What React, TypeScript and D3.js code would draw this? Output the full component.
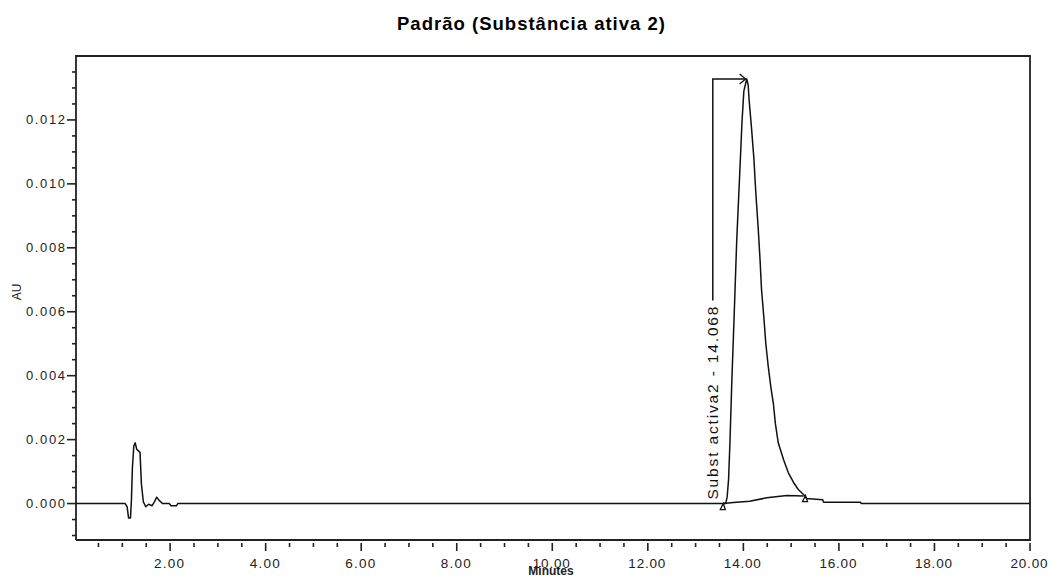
import React from "react";
import * as d3 from "d3";

const TITLE = "Padrão (Substância ativa 2)";
const Y_LABEL = "AU";
const X_LABEL = "Minutes";

// chromatogram signal: time (min) and absorbance (AU)
const times = [
  0.03, 1.06, 1.1, 1.13, 1.17, 1.19, 1.21, 1.24, 1.27, 1.3, 1.37, 1.4, 1.44, 1.49, 1.55, 1.62, 1.67, 1.72, 1.77,
  1.84, 1.98, 2.02, 2.13, 2.16, 13.63, 13.66, 13.69, 13.72, 13.76, 13.81, 13.86, 13.92, 13.97, 14.01, 14.07,
  14.1, 14.12, 14.17, 14.22, 14.26, 14.31, 14.35, 14.38, 14.43, 14.47, 14.52, 14.57, 14.63, 14.67, 14.73, 14.84,
  14.94, 15.05, 15.15, 15.28, 15.32, 15.66, 15.68, 16.45, 16.47, 20.0,
];
const values = [
  0, 0, -0.0001, -0.00045, -0.00045, 0.0001, 0.0011, 0.0018, 0.0019, 0.0017, 0.0016, 0.0006, 0.00005, -0.0001,
  -0.00002, -0.00007, 0.00005, 0.0002, 0.0001, 0, 0, -0.00007, -0.00007, 0, 0, 0.0002, 0.00075, 0.00195, 0.0039,
  0.006, 0.0082, 0.0102, 0.0119, 0.0129, 0.01328, 0.0131, 0.01263, 0.01175, 0.0108, 0.00973, 0.00862, 0.0076,
  0.0067, 0.0058, 0.005, 0.0043, 0.0037, 0.0031, 0.0025, 0.0019, 0.00138, 0.00097, 0.00066, 0.00044, 0.00025,
  0.00016, 0.00012, 0.00004, 0.00004, 0, 0,
];

// integration baseline under the main peak
const baseTimes = [13.58, 13.79, 14.13, 14.49, 14.91, 15.26];
const baseValues = [0, 0.00003, 0.00007, 0.00018, 0.00025, 0.00024];

// peak annotation
const peakName = "Subst activa2";
const peakRT = 14.068;
const peakHeight = 0.01328;
const labelTime = 13.36;
const peakStart = 13.58;
const peakEnd = 15.28;

// axes
const xMajorTicks = [2, 4, 6, 8, 10, 12, 14, 16, 18, 20];
const xTickLabels = ["2.00", "4.00", "6.00", "8.00", "10.00", "12.00", "14.00", "16.00", "18.00", "20.00"];
const yMajorTicks = [0, 0.002, 0.004, 0.006, 0.008, 0.01, 0.012];
const yTickLabels = ["0.000", "0.002", "0.004", "0.006", "0.008", "0.010", "0.012"];
const xDomain = [0.03, 20];
const yDomain = [-0.00114, 0.014];

const W = 1053;
const H = 577;
const L = 76, R = 1030, T = 56, B = 540;
const FONT = "'Liberation Sans', Arial, Helvetica, sans-serif";

export default function App() {
  const x = d3.scaleLinear().domain(xDomain).range([L, R]);
  const y = d3.scaleLinear().domain(yDomain).range([B, T]);

  const line = d3
    .line<[number, number]>()
    .x((d) => x(d[0]))
    .y((d) => y(d[1]));

  const signal: [number, number][] = times.map((t, i) => [t, values[i]]);
  const base: [number, number][] = baseTimes.map((t, i) => [t, baseValues[i]]);

  const xMinor = d3.range(0.5, 20.01, 0.5).filter((v) => Math.abs(v / 2 - Math.round(v / 2)) > 1e-6);
  const yMinor = d3.range(-0.001, 0.01351, 0.0005).filter(
    (v) => Math.abs(v / 0.002 - Math.round(v / 0.002)) > 1e-6
  );

  const lx = x(labelTime);
  const py = y(peakHeight);
  const px = x(peakRT);
  const textBottom = y(0) - 4;
  const textLen = 193;

  return (
    <svg
      width={W}
      height={H}
      style={{ position: "absolute", left: 0, top: 0, background: "#fff" }}
      fontFamily={FONT}
    >
      <rect x={0} y={0} width={W} height={H} fill="#fff" />
      <text x={531} y={30} textAnchor="middle" fontWeight="bold" fontSize={18.5} textLength={268} lengthAdjust="spacing">
        {TITLE}
      </text>

      {/* frame */}
      <path d={`M${L},${B}V${T}H${R}V${B}H${L}`} fill="none" stroke="#222" strokeWidth={1.8} />

      {/* y ticks */}
      {yMinor.map((v, i) => (
        <line key={"ym" + i} x1={L - 4} x2={L} y1={y(v)} y2={y(v)} stroke="#222" strokeWidth={1.6} />
      ))}
      {yMajorTicks.map((v, i) => (
        <g key={"yM" + i}>
          <line x1={L - 9} x2={L} y1={y(v)} y2={y(v)} stroke="#222" strokeWidth={1.6} />
          <text x={65} y={y(v) + 4.5} textAnchor="end" fontSize={13} textLength={39} lengthAdjust="spacing" fill="#222">
            {yTickLabels[i]}
          </text>
        </g>
      ))}
      <text transform={`translate(21,292) rotate(-90)`} textAnchor="middle" fontSize={12} fill="#222">
        {Y_LABEL}
      </text>

      {/* x ticks */}
      {xMinor.map((v, i) => (
        <line key={"xm" + i} x1={x(v)} x2={x(v)} y1={B + 3} y2={B + 7} stroke="#222" strokeWidth={1.6} />
      ))}
      {xMajorTicks.map((v, i) => (
        <g key={"xM" + i}>
          <line x1={x(v)} x2={x(v)} y1={B + 3} y2={B + 11} stroke="#222" strokeWidth={1.6} />
          <text
            x={x(v) - 1}
            y={568}
            textAnchor="middle"
            fontSize={13.5}
            textLength={xTickLabels[i].length > 4 ? 37 : 30}
            lengthAdjust="spacing"
            fill="#222"
          >
            {xTickLabels[i]}
          </text>
        </g>
      ))}
      <text x={551} y={575} textAnchor="middle" fontSize={12} fontWeight="bold" fill="#222">
        {X_LABEL}
      </text>

      {/* baseline under peak */}
      <path d={line(base) || ""} fill="none" stroke="#111" strokeWidth={1.5} />
      {/* signal */}
      <path d={line(signal) || ""} fill="none" stroke="#111" strokeWidth={1.5} strokeLinejoin="round" />

      {/* start / end markers */}
      <path
        d={`M${x(peakStart) - 3},${y(0) + 6}L${x(peakStart) + 2},${y(0) + 6}L${x(peakStart)},${y(0)}Z`}
        fill="none"
        stroke="#111"
        strokeWidth={1.3}
      />
      <path
        d={`M${x(peakEnd) - 2},${y(0.00025) + 6}L${x(peakEnd) + 3},${y(0.00025) + 6}L${x(peakEnd) + 1},${y(0.00025)}Z`}
        fill="none"
        stroke="#111"
        strokeWidth={1.3}
      />

      {/* annotation */}
      <path d={`M${lx},${textBottom - textLen - 6}V${py}H${px - 1}`} fill="none" stroke="#111" strokeWidth={1.5} />
      <path d={`M${px - 7},${py - 5}L${px - 1},${py}L${px - 7},${py + 5}`} fill="none" stroke="#111" strokeWidth={1.3} />
      <text
        transform={`translate(${lx + 5},${textBottom}) rotate(-90)`}
        fontSize={15.5}
        textLength={textLen}
        lengthAdjust="spacing"
        fill="#111"
      >
        {`${peakName} - ${peakRT.toFixed(3)}`}
      </text>
    </svg>
  );
}
